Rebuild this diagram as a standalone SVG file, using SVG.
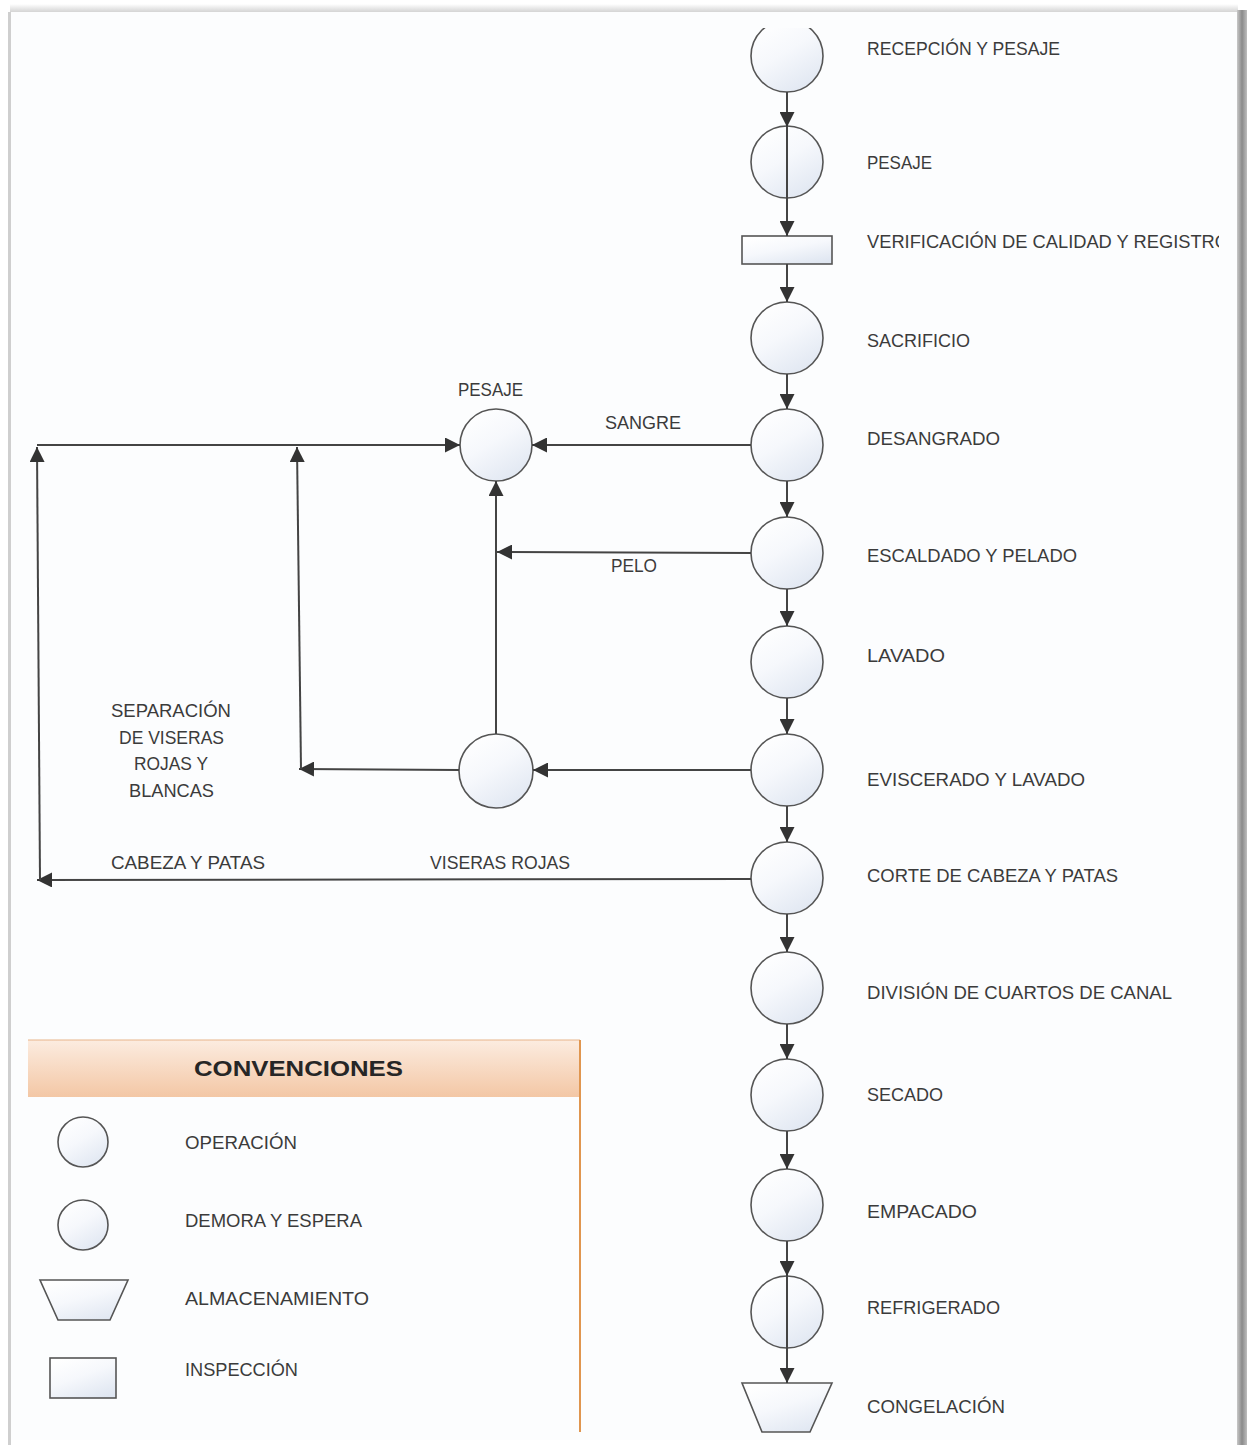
<svg xmlns="http://www.w3.org/2000/svg" width="1248" height="1445" viewBox="0 0 1248 1445">
<defs>
<style>
.lbl{font-family:"Liberation Sans",Arial,sans-serif;font-size:18px;fill:#3b3b3b}
.ttl{font-family:"Liberation Sans",Arial,sans-serif;font-size:22px;font-weight:bold;fill:#262626}
.node{fill:url(#cg);stroke:#555;stroke-width:1.6}
.con{stroke:#444;stroke-width:2;fill:none}
.arr{marker-end:url(#ah)}
</style>
<linearGradient id="cg" x1="0.2" y1="0" x2="0.8" y2="1">
<stop offset="0" stop-color="#ffffff"/>
<stop offset="0.45" stop-color="#f6f8fc"/>
<stop offset="1" stop-color="#dfe6f1"/>
</linearGradient>
<linearGradient id="hg" x1="0" y1="0" x2="0" y2="1">
<stop offset="0" stop-color="#fcece0"/>
<stop offset="1" stop-color="#f3c7a5"/>
</linearGradient>
<linearGradient id="rs" x1="0" y1="0" x2="1" y2="0">
<stop offset="0" stop-color="#c8c8c8"/>
<stop offset="0.5" stop-color="#8a8a8a"/>
<stop offset="1" stop-color="#bdbdbd"/>
</linearGradient>
<linearGradient id="ts" x1="0" y1="0" x2="0" y2="1">
<stop offset="0" stop-color="#ffffff"/>
<stop offset="1" stop-color="#d4d4d4"/>
</linearGradient>
<marker id="ah" markerUnits="userSpaceOnUse" markerWidth="16" markerHeight="15" refX="15" refY="7.5" orient="auto">
<path d="M0,0 L15,7.5 L0,15 z" fill="#333"/>
</marker>
<clipPath id="pg"><rect x="11" y="28" width="1226" height="1412"/></clipPath>
<clipPath id="vclip"><rect x="860" y="220" width="359" height="40"/></clipPath>
</defs>

<rect x="0" y="0" width="1248" height="1445" fill="#ffffff"/>
<rect x="10" y="4" width="1228" height="8" fill="url(#ts)"/>
<rect x="1237" y="10" width="10" height="1435" fill="url(#rs)"/>
<rect x="8" y="12" width="3" height="1433" fill="#cfcfcf"/>
<rect x="11" y="12" width="1226" height="1428" fill="#fcfdfe"/>

<g id="legend">
<rect x="28" y="1040" width="552" height="57" fill="url(#hg)"/>
<line x1="28" y1="1040" x2="580" y2="1040" stroke="#e8b48a" stroke-width="1"/>
<line x1="580" y1="1040" x2="580" y2="1432" stroke="#e0964f" stroke-width="2"/>
<text class="ttl" x="194" y="1076" textLength="209" lengthAdjust="spacingAndGlyphs">CONVENCIONES</text>
<circle class="node" cx="83" cy="1142" r="25"/>
<text class="lbl" x="185" y="1149" textLength="112" lengthAdjust="spacingAndGlyphs">OPERACIÓN</text>
<circle class="node" cx="83" cy="1225" r="25"/>
<text class="lbl" x="185" y="1227" textLength="177" lengthAdjust="spacingAndGlyphs">DEMORA Y ESPERA</text>
<polygon class="node" points="40,1280 128,1280 110,1320 58,1320"/>
<text class="lbl" x="185" y="1305" textLength="184" lengthAdjust="spacingAndGlyphs">ALMACENAMIENTO</text>
<rect class="node" x="50" y="1358" width="66" height="40"/>
<text class="lbl" x="185" y="1376" textLength="113" lengthAdjust="spacingAndGlyphs">INSPECCIÓN</text>
</g>

<g id="n-recepcion" clip-path="url(#pg)"><circle class="node" cx="787" cy="56" r="36"/></g>
<g id="n-pesaje"><circle class="node" cx="787" cy="162" r="36"/></g>
<g id="n-verificacion"><rect class="node" x="742" y="236" width="90" height="28"/></g>
<g id="n-sacrificio"><circle class="node" cx="787" cy="338" r="36"/></g>
<g id="n-desangrado"><circle class="node" cx="787" cy="445" r="36"/></g>
<g id="n-escaldado"><circle class="node" cx="787" cy="553" r="36"/></g>
<g id="n-lavado"><circle class="node" cx="787" cy="662" r="36"/></g>
<g id="n-eviscerado"><circle class="node" cx="787" cy="770" r="36"/></g>
<g id="n-corte"><circle class="node" cx="787" cy="878" r="36"/></g>
<g id="n-division"><circle class="node" cx="787" cy="988" r="36"/></g>
<g id="n-secado"><circle class="node" cx="787" cy="1095" r="36"/></g>
<g id="n-empacado"><circle class="node" cx="787" cy="1205" r="36"/></g>
<g id="n-refrigerado"><circle class="node" cx="787" cy="1312" r="36"/></g>
<g id="n-congelacion"><polygon class="node" points="742,1383 832,1383 810,1432 762,1432"/></g>
<g id="n-pesaje-sub"><circle class="node" cx="496" cy="445" r="36"/></g>
<g id="n-separacion"><circle class="node" cx="496" cy="771" r="37"/></g>

<g id="connectors">
<line class="con arr" x1="787" y1="92" x2="787" y2="127"/>
<line class="con arr" x1="787" y1="127" x2="787" y2="236"/>
<line class="con arr" x1="787" y1="264" x2="787" y2="302"/>
<line class="con arr" x1="787" y1="374" x2="787" y2="409"/>
<line class="con arr" x1="787" y1="481" x2="787" y2="517"/>
<line class="con arr" x1="787" y1="589" x2="787" y2="626"/>
<line class="con arr" x1="787" y1="698" x2="787" y2="734"/>
<line class="con arr" x1="787" y1="806" x2="787" y2="842"/>
<line class="con arr" x1="787" y1="914" x2="787" y2="952"/>
<line class="con arr" x1="787" y1="1024" x2="787" y2="1059"/>
<line class="con arr" x1="787" y1="1131" x2="787" y2="1169"/>
<line class="con arr" x1="787" y1="1241" x2="787" y2="1276"/>
<line class="con arr" x1="787" y1="1276" x2="787" y2="1383"/>
<line class="con arr" x1="751" y1="445" x2="532" y2="445"/>
<line class="con arr" x1="751" y1="553" x2="497" y2="552"/>
<line class="con arr" x1="496" y1="734" x2="496" y2="481"/>
<line class="con arr" x1="751" y1="770" x2="533" y2="770"/>
<line class="con arr" x1="459" y1="770" x2="299" y2="769"/>
<line class="con arr" x1="301" y1="769" x2="297" y2="447"/>
<line class="con" x1="37" y1="445" x2="300" y2="445"/>
<line class="con arr" x1="37" y1="445" x2="460" y2="445"/>
<line class="con arr" x1="751" y1="879" x2="37" y2="880"/>
<line class="con arr" x1="40" y1="880" x2="37" y2="447"/>
</g>

<g id="labels">
<text class="lbl" x="867" y="55" textLength="193" lengthAdjust="spacingAndGlyphs">RECEPCIÓN Y PESAJE</text>
<text class="lbl" x="867" y="169" textLength="65" lengthAdjust="spacingAndGlyphs">PESAJE</text>
<text class="lbl" x="867" y="248" textLength="362" lengthAdjust="spacingAndGlyphs" clip-path="url(#vclip)">VERIFICACIÓN DE CALIDAD Y REGISTRO</text>
<text class="lbl" x="867" y="347" textLength="103" lengthAdjust="spacingAndGlyphs">SACRIFICIO</text>
<text class="lbl" x="867" y="445" textLength="133" lengthAdjust="spacingAndGlyphs">DESANGRADO</text>
<text class="lbl" x="867" y="562" textLength="210" lengthAdjust="spacingAndGlyphs">ESCALDADO Y PELADO</text>
<text class="lbl" x="867" y="662" textLength="78" lengthAdjust="spacingAndGlyphs">LAVADO</text>
<text class="lbl" x="867" y="786" textLength="218" lengthAdjust="spacingAndGlyphs">EVISCERADO Y LAVADO</text>
<text class="lbl" x="867" y="882" textLength="251" lengthAdjust="spacingAndGlyphs">CORTE DE CABEZA Y PATAS</text>
<text class="lbl" x="867" y="999" textLength="305" lengthAdjust="spacingAndGlyphs">DIVISIÓN DE CUARTOS DE CANAL</text>
<text class="lbl" x="867" y="1101" textLength="76" lengthAdjust="spacingAndGlyphs">SECADO</text>
<text class="lbl" x="867" y="1218" textLength="110" lengthAdjust="spacingAndGlyphs">EMPACADO</text>
<text class="lbl" x="867" y="1314" textLength="133" lengthAdjust="spacingAndGlyphs">REFRIGERADO</text>
<text class="lbl" x="867" y="1413" textLength="138" lengthAdjust="spacingAndGlyphs">CONGELACIÓN</text>
<text class="lbl" x="458" y="396" textLength="65" lengthAdjust="spacingAndGlyphs">PESAJE</text>
<text class="lbl" x="605" y="429" textLength="76" lengthAdjust="spacingAndGlyphs">SANGRE</text>
<text class="lbl" x="611" y="572" textLength="46" lengthAdjust="spacingAndGlyphs">PELO</text>
<text class="lbl" x="111" y="717" textLength="120" lengthAdjust="spacingAndGlyphs">SEPARACIÓN</text>
<text class="lbl" x="119" y="744" textLength="105" lengthAdjust="spacingAndGlyphs">DE VISERAS</text>
<text class="lbl" x="134" y="770" textLength="74" lengthAdjust="spacingAndGlyphs">ROJAS Y</text>
<text class="lbl" x="129" y="797" textLength="85" lengthAdjust="spacingAndGlyphs">BLANCAS</text>
<text class="lbl" x="111" y="869" textLength="154" lengthAdjust="spacingAndGlyphs">CABEZA Y PATAS</text>
<text class="lbl" x="430" y="869" textLength="140" lengthAdjust="spacingAndGlyphs">VISERAS ROJAS</text>
</g>
</svg>
